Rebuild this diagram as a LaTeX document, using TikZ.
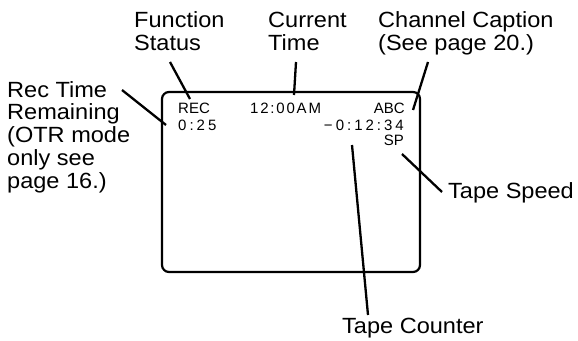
\documentclass[tikz,border=0pt]{standalone}
\usepackage{fontspec}
\setmainfont{Liberation Sans}
\newfontfamily\labfont[FakeStretch=1.07]{Liberation Sans}
\newfontfamily\scrfont{Liberation Sans}
\newfontfamily\digfont[LetterSpace=20]{Liberation Sans}
\newfontfamily\clkfont[LetterSpace=12]{Liberation Sans}
\begin{document}
\begin{tikzpicture}[x=1pt,y=-1pt,
  lab/.style={inner sep=0pt,anchor=base west,align=left,font={\labfont\fontsize{22}{23}\selectfont}},
  scr/.style={inner sep=0pt,font={\scrfont\fontsize{15}{15}\selectfont}},
  dig/.style={inner sep=0pt,font={\digfont\fontsize{15}{15}\selectfont}},
  clk/.style={inner sep=0pt,font={\clkfont\fontsize{15}{15}\selectfont}},
  lead/.style={line width=2.3pt},
  screen/.style={line width=2.2pt,rounded corners=7pt}]
\useasboundingbox (0,0) rectangle (578,340);
% screen
\draw[screen] (162,92) rectangle (420,272);
\node[scr,anchor=base west] (rec) at (178,113) {REC};
\node[clk,anchor=base west] (clock) at (250,113) {12:00AM};
\node[scr,anchor=base east] (abc) at (405,113) {ABC};
\node[dig,anchor=base west] (remain) at (178,130) {0:25};
\node[dig,anchor=base east] (counter) at (404,130) {−0:12:34};
\node[scr,anchor=base east] (sp) at (404,145) {SP};
% labels (base anchor = baseline of the last line)
\node[lab] (fs) at (134,50) {Function\\Status};
\node[lab] (ct) at (268,50) {Current\\Time};
\node[lab] (cc) at (378,50) {Channel Caption\\(See page 20.)};
\node[lab,font={\labfont\fontsize{22}{22.75}\selectfont}] (rt) at (7,188) {Rec Time\\Remaining\\(OTR mode\\only see\\page 16.)};
\node[lab] (ts) at (448,198) {Tape Speed};
\node[lab] (tc) at (342,333) {Tape Counter};
% leader end points
\coordinate (fsA) at (170,62);  \coordinate (fsB) at (190,99);
\coordinate (ctA) at (296,62);  \coordinate (ctB) at (294,95);
\coordinate (ccA) at (428,62);  \coordinate (ccB) at (413,110);
\coordinate (rtA) at (122,90);  \coordinate (rtB) at (166,125);
\coordinate (tsA) at (402,154); \coordinate (tsB) at (442,192);
\coordinate (tcA) at (352,145); \coordinate (tcB) at (368,315);
\draw[lead] (fsA) -- (fsB);
\draw[lead] (ctA) -- (ctB);
\draw[lead] (ccA) -- (ccB);
\draw[lead] (rtA) -- (rtB);
\draw[lead] (tsA) -- (tsB);
\draw[lead] (tcA) -- (tcB);
\end{tikzpicture}
\end{document}
